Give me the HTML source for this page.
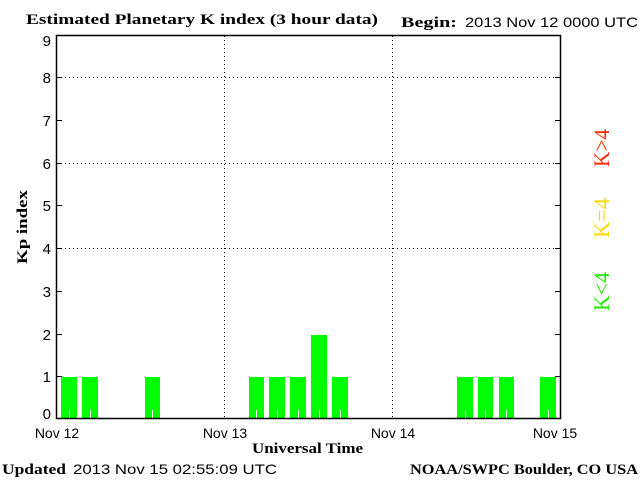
<!DOCTYPE html>
<html><head><style>body{margin:0;background:#fff}svg{display:block}</style></head><body>
<svg width="640" height="480" xmlns="http://www.w3.org/2000/svg">
<rect width="640" height="480" fill="#fff"/>
<g fill="#00ff00">
<rect x="61" y="377" width="16" height="42"/>
<rect x="82" y="377" width="16" height="42"/>
<rect x="145" y="377" width="15" height="42"/>
<rect x="249" y="377" width="15" height="42"/>
<rect x="269" y="377" width="16" height="42"/>
<rect x="290" y="377" width="16" height="42"/>
<rect x="311" y="335" width="16" height="84"/>
<rect x="332" y="377" width="16" height="42"/>
<rect x="457" y="377" width="16" height="42"/>
<rect x="478" y="377" width="15" height="42"/>
<rect x="499" y="377" width="15" height="42"/>
<rect x="540" y="377" width="16" height="42"/>
</g>
<g stroke="#fff" stroke-width="1">
<line x1="69.5" y1="410" x2="69.5" y2="419"/><line x1="90.5" y1="410" x2="90.5" y2="419"/>
<line x1="152.5" y1="410" x2="152.5" y2="419"/><line x1="256.5" y1="410" x2="256.5" y2="419"/>
<line x1="277.5" y1="410" x2="277.5" y2="419"/><line x1="298.5" y1="410" x2="298.5" y2="419"/>
<line x1="319.5" y1="410" x2="319.5" y2="419"/><line x1="340.5" y1="410" x2="340.5" y2="419"/>
<line x1="465.5" y1="410" x2="465.5" y2="419"/><line x1="485.5" y1="410" x2="485.5" y2="419"/>
<line x1="506.5" y1="410" x2="506.5" y2="419"/><line x1="548.5" y1="410" x2="548.5" y2="419"/>
</g>
<g stroke="#000" stroke-width="1" stroke-dasharray="1 3">
<line x1="57" y1="77.5" x2="560" y2="77.5"/>
<line x1="57" y1="163.5" x2="560" y2="163.5"/>
<line x1="57" y1="248.5" x2="560" y2="248.5"/>
<line x1="224.5" y1="36" x2="224.5" y2="418"/>
<line x1="392.5" y1="36" x2="392.5" y2="418"/>
</g>
<rect x="56.5" y="35.5" width="504" height="383" fill="none" stroke="#000" stroke-width="1.5"/>
<g stroke="#000" stroke-width="1">
<line x1="56" y1="77.5" x2="62" y2="77.5"/><line x1="56" y1="120.5" x2="62" y2="120.5"/>
<line x1="56" y1="163.5" x2="62" y2="163.5"/><line x1="56" y1="205.5" x2="62" y2="205.5"/>
<line x1="56" y1="248.5" x2="62" y2="248.5"/><line x1="56" y1="291.5" x2="62" y2="291.5"/>
<line x1="56" y1="334.5" x2="62" y2="334.5"/><line x1="56" y1="376.5" x2="62" y2="376.5"/>
<line x1="555" y1="77.5" x2="561" y2="77.5"/><line x1="555" y1="120.5" x2="561" y2="120.5"/>
<line x1="555" y1="163.5" x2="561" y2="163.5"/><line x1="555" y1="205.5" x2="561" y2="205.5"/>
<line x1="555" y1="248.5" x2="561" y2="248.5"/><line x1="555" y1="291.5" x2="561" y2="291.5"/>
<line x1="555" y1="334.5" x2="561" y2="334.5"/><line x1="555" y1="376.5" x2="561" y2="376.5"/>
</g>
<g font-family="Liberation Sans, sans-serif" font-size="15" text-anchor="end">
<text x="51" y="46">9</text><text x="51" y="83">8</text><text x="51" y="126">7</text>
<text x="51" y="169">6</text><text x="51" y="211">5</text><text x="51" y="254">4</text>
<text x="51" y="297">3</text><text x="51" y="340">2</text><text x="51" y="382">1</text>
<text x="51" y="419">0</text>
</g>
<g font-family="Liberation Sans, sans-serif" font-size="14" text-anchor="middle">
<text x="57" y="438">Nov 12</text><text x="225" y="438">Nov 13</text>
<text x="393" y="438">Nov 14</text><text x="555" y="438">Nov 15</text>
</g>
<g font-family="Liberation Serif, serif" font-weight="bold" font-size="15">
<text x="26" y="24" textLength="352" lengthAdjust="spacingAndGlyphs">Estimated Planetary K index (3 hour data)</text>
<text x="401" y="27" textLength="56" lengthAdjust="spacingAndGlyphs">Begin:</text>
<text x="252" y="453" textLength="111" lengthAdjust="spacingAndGlyphs">Universal Time</text>
<text x="2" y="474" textLength="64" lengthAdjust="spacingAndGlyphs">Updated</text>
<text x="410" y="474" textLength="228" lengthAdjust="spacingAndGlyphs">NOAA/SWPC Boulder, CO USA</text>
<text transform="translate(27,227) rotate(-90)" text-anchor="middle" textLength="74" lengthAdjust="spacingAndGlyphs">Kp index</text>
</g>
<g font-family="Liberation Sans, sans-serif" font-size="14">
<text x="465" y="27" textLength="173" lengthAdjust="spacingAndGlyphs">2013 Nov 12 0000 UTC</text>
<text x="73" y="474" textLength="204" lengthAdjust="spacingAndGlyphs">2013 Nov 15 02:55:09 UTC</text>
</g>
<g font-family="Liberation Serif, serif" font-weight="normal" font-size="22">
<text transform="translate(609,167) rotate(-90)" fill="#ff2a00" textLength="38" lengthAdjust="spacingAndGlyphs">K&gt;4</text>
<text transform="translate(609,238) rotate(-90)" fill="#ffd700" textLength="40" lengthAdjust="spacingAndGlyphs">K=4</text>
<text transform="translate(609,311) rotate(-90)" fill="#22ee00" textLength="39" lengthAdjust="spacingAndGlyphs">K&lt;4</text>
</g>
</svg>
</body></html>
